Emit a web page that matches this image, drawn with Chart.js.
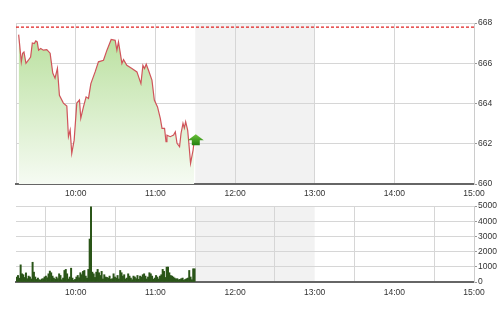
<!DOCTYPE html>
<html>
<head>
<meta charset="utf-8">
<script src="https://cdn.jsdelivr.net/npm/chart.js@4/dist/chart.umd.min.js"></script>
<style>
  html, body { margin: 0; padding: 0; background: #fff; }
  #wrap { position: relative; width: 500px; height: 311px; }
  #priceBox { position: absolute; left: 0; top: 0; width: 500px; height: 200px; }
  #volBox { position: absolute; left: 0; top: 200px; width: 500px; height: 111px; }
</style>
</head>
<body>
<div id="wrap">
  <div id="priceBox"><canvas id="priceChart"></canvas></div>
  <div id="volBox"><canvas id="volChart"></canvas></div>
</div>
<script>
// times are minutes after midnight, session runs 9:15 - 15:00
const sessionStart = 555;
const sessionEnd = 900;
const lunchBreak = [690, 780]; // 11:30 - 13:00, greyed out
const hourTicks = [600, 660, 720, 780, 840, 900];
const priceTicks = [660, 662, 664, 666, 668];
const volumeTicks = [0, 1000, 2000, 3000, 4000, 5000];
const refPrice = 667.8;

const priceTimes = [
  557, 559, 560, 561, 562.5, 564.3, 566, 567.3, 568.8, 569.9,
  571, 572, 573.6, 575.6, 578.2, 580.7, 582.7, 584.4, 586.2, 587.7,
  590.7, 593.3, 594.5, 595.8, 597, 598.8, 600.8, 602.8, 603.8, 605.8,
  607.8, 609.6, 611.4, 614.6, 617.1, 620.9, 623.5, 626.7, 629.7, 631,
  632.2, 634.8, 636, 638.5, 642.3, 646.1, 649.1, 650.6, 651.8, 653.1,
  654.8, 657.4, 659.2, 661.6, 663.7, 665, 666.9, 668, 668.7, 671.2,
  673.7, 675, 676.3, 678.2, 679.3, 680.8, 681.8, 682.8, 684.3, 685,
  686.5, 688.4, 689.3
];
const priceValues = [
  667.42, 666.07, 666.50, 666.56, 666.00, 666.15, 666.31, 667.01, 666.98, 667.11,
  667.06, 666.65, 666.73, 666.65, 666.68, 666.50, 665.51, 665.26, 665.75, 664.41,
  664.02, 663.87, 662.35, 662.68, 661.52, 662.18, 664.02, 664.17, 663.27, 663.83,
  664.33, 664.25, 664.99, 665.57, 666.07, 666.15, 666.65, 667.18, 667.14, 666.65,
  667.06, 665.99, 666.18, 665.90, 665.74, 665.57, 664.99, 665.90, 665.74, 665.95,
  665.65, 665.16, 664.17, 663.83, 663.26, 662.76, 662.76, 662.10, 662.43, 662.35,
  662.43, 662.59, 662.02, 661.85, 662.51, 663.01, 662.78, 663.09, 662.68, 662.18,
  661.03, 661.69, 662.18
];

// one bar per minute from 9:15
const volumeValues = [
  330, 430, 250, 1130, 540, 480, 300, 600, 220, 390,
  330, 200, 1300, 650, 330, 170, 260, 150, 130, 200,
  220, 330, 390, 280, 540, 720, 610, 390, 260, 180,
  330, 220, 540, 430, 150, 260, 760, 830, 540, 200,
  330, 910, 260, 120, 170, 330, 430, 280, 610, 480,
  700, 760, 390, 250, 830, 2830, 4950, 650, 540, 300,
  650, 830, 610, 430, 700, 200, 480, 330, 300, 260,
  390, 180, 220, 540, 330, 260, 430, 200, 760, 610,
  390, 480, 200, 260, 540, 390, 260, 150, 390, 330,
  220, 430, 180, 390, 330, 480, 540, 390, 200, 330,
  610, 540, 390, 180, 260, 430, 330, 200, 390, 480,
  830, 700, 300, 980, 980, 610, 430, 390, 330, 260,
  200, 220, 150, 170, 220, 260, 120, 170, 220, 260,
  760, 330, 150, 870, 870
];

const labelFont = { family: 'Liberation Sans', size: 8.5 };
const gridColor = '#d6d6d6';

const lunchBand = {
  id: 'lunchBand',
  beforeDraw(chart) {
    const { ctx, chartArea, scales } = chart;
    const x1 = scales.x.getPixelForValue(lunchBreak[0]);
    const x2 = scales.x.getPixelForValue(lunchBreak[1]);
    ctx.save();
    ctx.fillStyle = '#f2f2f2';
    ctx.fillRect(x1, chartArea.top, x2 - x1, chartArea.bottom - chartArea.top);
    ctx.restore();
  }
};

// green "up" marker at the last trade
const lastArrow = {
  id: 'lastArrow',
  afterDatasetsDraw(chart) {
    const pts = chart.getDatasetMeta(0).data;
    const p = pts[pts.length - 1];
    const cx = p.x + 1.5, cy = p.y;
    const ctx = chart.ctx;
    ctx.save();
    const g = ctx.createLinearGradient(0, cy - 6, 0, cy + 6);
    g.addColorStop(0, '#6cc23a');
    g.addColorStop(1, '#1c7a0c');
    ctx.fillStyle = g;
    ctx.beginPath();
    ctx.moveTo(cx, cy - 6);
    ctx.lineTo(cx + 8, cy);
    ctx.lineTo(cx + 4, cy);
    ctx.lineTo(cx + 4, cy + 5);
    ctx.lineTo(cx - 4, cy + 5);
    ctx.lineTo(cx - 4, cy);
    ctx.lineTo(cx - 8, cy);
    ctx.closePath();
    ctx.fill();
    ctx.restore();
  }
};

function xAxis(height, pad) {
  return {
    type: 'linear',
    min: sessionStart,
    max: sessionEnd,
    offset: false,
    afterBuildTicks: s => { s.ticks = [sessionStart, ...hourTicks].map(v => ({ value: v })); },
    afterFit: s => { s.height = height; },
    grid: { color: gridColor, drawTicks: false },
    border: { color: '#666', width: 2 },
    ticks: {
      padding: pad,
      color: '#333',
      font: labelFont,
      maxRotation: 0,
      autoSkip: false,
      callback: v => v % 60 === 0 ? (v / 60) + ':00' : ''
    }
  };
}

function yAxis(min, max, list) {
  return {
    position: 'right',
    min: min,
    max: max,
    afterBuildTicks: s => { s.ticks = list.map(v => ({ value: v })); },
    afterFit: s => { s.width = 26; },
    grid: { color: gridColor, tickLength: 3, tickColor: '#999' },
    border: { color: '#ccc' },
    ticks: { padding: 1, color: '#333', font: labelFont, callback: v => String(v) }
  };
}

new Chart(document.getElementById('priceChart'), {
  type: 'line',
  data: {
    datasets: [
      {
        data: priceTimes.map((t, i) => ({ x: t, y: priceValues[i] })),
        borderColor: '#d0545a',
        borderWidth: 1.2,
        pointRadius: 0,
        tension: 0,
        fill: 'start',
        backgroundColor: ctx => {
          const area = ctx.chart.chartArea;
          if (!area) return '#d8eecb';
          const g = ctx.chart.ctx.createLinearGradient(0, area.top, 0, area.bottom);
          g.addColorStop(0, '#b5de98');
          g.addColorStop(1, '#f6fbf3');
          return g;
        }
      },
      {
        data: [{ x: sessionStart, y: refPrice }, { x: sessionEnd, y: refPrice }],
        borderColor: '#e02020',
        borderWidth: 1.3,
        borderDash: [3, 2],
        pointRadius: 0,
        fill: false
      }
    ]
  },
  options: {
    responsive: true,
    maintainAspectRatio: false,
    animation: false,
    layout: { padding: { left: 16, top: 23, right: 0, bottom: 0 } },
    plugins: { legend: { display: false }, tooltip: { enabled: false } },
    scales: {
      x: xAxis(16, 5),
      y: yAxis(660, 668, priceTicks)
    }
  },
  plugins: [lunchBand, lastArrow]
});

new Chart(document.getElementById('volChart'), {
  type: 'bar',
  data: {
    datasets: [{
      data: volumeValues.map((v, i) => ({ x: sessionStart + i + 0.5, y: v })),
      backgroundColor: '#2a5518',
      barPercentage: 1,
      categoryPercentage: 1
    }]
  },
  options: {
    responsive: true,
    maintainAspectRatio: false,
    animation: false,
    layout: { padding: { left: 16, top: 5, right: 0, bottom: 0 } },
    plugins: { legend: { display: false }, tooltip: { enabled: false } },
    scales: {
      x: xAxis(29, 6),
      y: yAxis(0, 5000, volumeTicks)
    }
  },
  plugins: [lunchBand]
});
</script>
</body>
</html>
